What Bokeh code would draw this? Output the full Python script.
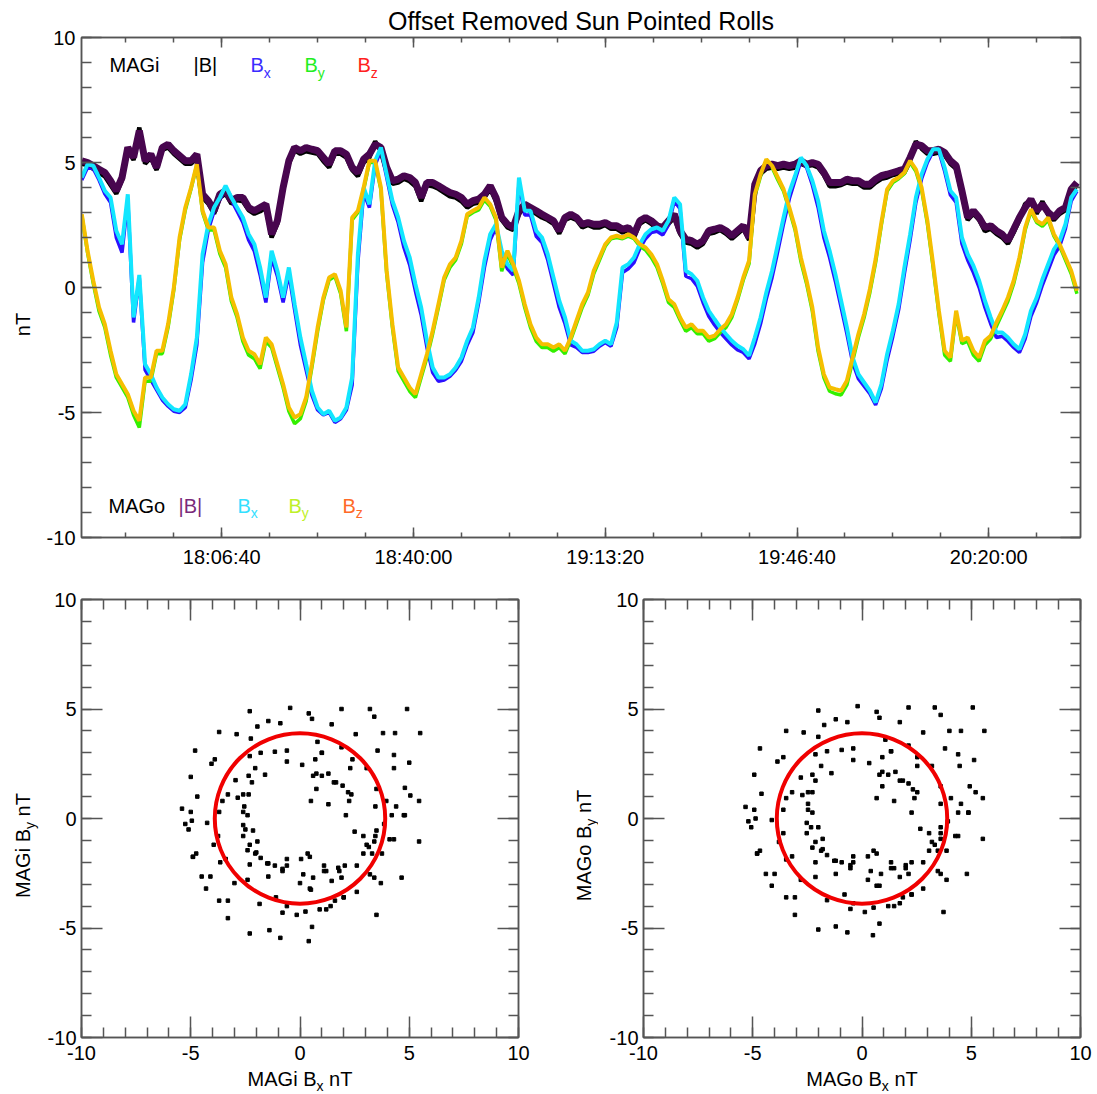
from bokeh.plotting import figure
from bokeh.models import Range1d, FixedTicker, LinearAxis, Label, ColumnDataSource, Title
from bokeh.layouts import column, row
from bokeh.embed import file_html
from bokeh.resources import INLINE

# ---------------- data ----------------
title_text = "Offset Removed Sun Pointed Rolls"
sample_start_s = 63740      # 17:42:20, seconds of day
sample_step_s = 60

# MAGo |B| (purple)
bmag_o = [5.07, 5.0, 4.87, 4.73, 4.6, 4.27, 3.87, 4.4, 5.6, 5.2, 6.27, 5.07, 5.33, 4.8, 5.6, 5.73, 5.47, 5.27, 5.07, 5.07,
          5.33, 3.73, 3.47, 3.07, 3.73, 3.87, 3.47, 3.6, 3.6, 3.2, 3.07, 3.2, 3.33, 2.13, 2.67, 4.0, 5.07, 5.6, 5.47, 5.6,
          5.53, 5.47, 5.2, 4.93, 5.47,
          5.47, 5.33, 4.8, 4.6, 5.13, 5.33, 5.73, 5.6, 4.8, 4.27, 4.33, 4.47, 4.4, 4.2, 3.6, 4.2, 4.2, 4.07, 3.93, 3.8,
          3.73, 3.6, 3.33, 3.47, 3.53, 3.73, 4.07, 3.6, 2.8, 2.53, 2.4, 3.07, 3.33, 3.2, 3.07, 2.93, 2.8, 2.67, 2.27, 2.8,
          2.93, 2.8, 2.53,
          2.6, 2.53, 2.53, 2.6, 2.47, 2.47, 2.33, 2.4, 2.13, 2.67, 2.8, 2.67, 2.47, 2.4, 2.67, 2.93, 2.27, 1.93, 1.87, 1.73,
          1.87, 2.27, 2.33, 2.4, 2.27, 2.07, 2.27, 2.47, 2.0, 4.13, 4.67, 4.87, 4.93, 4.87, 4.93, 4.87, 4.93, 5.07, 4.93, 5.0,
          4.93, 4.6, 4.2,
          4.2, 4.2, 4.33, 4.27, 4.27, 4.13, 4.13, 4.33, 4.47, 4.53, 4.6, 4.67, 4.73, 5.2, 5.73, 5.67, 5.47, 5.47, 5.53, 5.4,
          5.07, 4.87, 3.87, 2.8, 3.07, 2.8, 2.4, 2.47, 2.27, 2.13, 1.87, 2.33, 2.8, 3.2, 3.53, 3.07, 3.33, 3.0, 2.8, 3.07,
          3.2, 3.93, 4.2]

# MAGo Bx (cyan)
bx_o = [4.4, 4.93, 4.87, 4.4, 3.87, 3.6, 2.27, 1.73, 3.73, -1.2, 0.5, -3.07, -3.47, -4.0, -4.4, -4.67, -4.87, -4.93, -4.67, -3.47,
        -2.0, 1.33, 2.53, 3.2, 3.6, 4.07, 3.6, 3.2, 2.8, 2.13, 1.73, 0.8, -0.4, 1.47, 0.67, -0.4, 0.8, -0.67, -2.0, -3.07,
        -4.13, -4.8, -5.07, -4.93, -5.33,
        -5.2, -4.8, -3.6, 1.33, 4.0, 3.33, 5.07, 5.6, 4.53, 3.47, 2.8, 1.87, 1.2, 0.13, -0.8, -2.13, -3.2, -3.6, -3.6, -3.47,
        -3.2, -2.8, -2.13, -1.6, -0.4, 1.07, 2.13, 2.53, 1.47, 0.93, 0.67, 4.4, 3.07, 3.07, 2.27, 2.0, 1.33, 0.4, -0.53, -1.2,
        -2.13, -2.27, -2.53,
        -2.53, -2.47, -2.27, -2.13, -2.27, -1.4, 0.8, 0.93, 1.2, 1.73, 2.13, 2.33, 2.4, 2.27, 2.67, 3.6, 3.33, 0.67, 0.53, 0.27,
        -0.4, -0.93, -1.27, -1.6, -1.87, -2.13, -2.33, -2.47, -2.73, -2.0, -1.2, -0.2, 0.67, 1.73, 2.8, 3.8, 4.47, 5.2, 4.87, 4.27,
        3.47, 2.27, 1.47,
        0.53, -0.53, -1.6, -2.8, -3.47, -3.8, -4.13, -4.6, -3.87, -2.67, -1.73, -0.67, 0.8, 2.13, 3.6, 4.53, 5.13, 5.53, 5.53, 4.8,
        3.87, 3.6, 2.0, 1.33, 0.87, 0.27, -0.53, -1.2, -1.8, -1.8, -2.0, -2.27, -2.47, -1.87, -0.93, -0.4, 0.33, 0.93, 1.53, 1.87,
        2.53, 3.6, 3.93]

# MAGo By (gold)
by_o = [2.93, 1.47, 0.27, -0.8, -1.47, -2.53, -3.47, -3.87, -4.27, -4.93, -5.33, -3.6, -3.6, -2.53, -2.53, -1.47, 0.0, 2.0, 3.2, 4.0,
        4.93, 3.07, 2.4, 2.4, 1.47, 0.93, -0.4, -1.07, -2.0, -2.53, -2.67, -3.07, -2.0, -2.27, -3.07, -3.87, -4.8, -5.2, -5.07, -4.4,
        -3.07, -1.6, -0.4, 0.4, 0.53,
        -0.13, -1.6, 2.8, 3.07, 4.0, 5.07, 5.07, 4.0, 0.67, -1.47, -3.2, -3.6, -4.0, -4.27, -3.47, -2.67, -1.73, -0.67, 0.4, 0.93,
        1.2, 1.87, 2.93, 3.07, 3.2, 3.6, 3.33, 2.8, 0.8, 1.47, 0.93, 0.27, -0.67, -1.47, -2.0, -2.27, -2.27, -2.4, -2.27, -2.53,
        -2.0, -1.33, -0.67,
        -0.2, 0.67, 1.2, 1.73, 2.0, 2.07, 2.0, 2.13, 2.0, 1.73, 1.6, 1.33, 0.93, 0.27, -0.47, -0.67, -1.2, -1.6, -1.47, -1.73,
        -1.73, -2.0, -1.93, -1.67, -1.47, -1.07, -0.4, 0.4, 1.07, 3.73, 4.53, 5.13, 4.87, 4.4, 3.93, 3.2, 2.4, 1.2, 0.27, -0.8,
        -2.4, -3.47, -4.0,
        -4.07, -4.13, -3.73, -2.8, -1.87, -1.07, -0.07, 1.13, 2.6, 3.93, 4.27, 4.4, 4.6, 5.07, 4.73, 4.0, 2.67, 0.93, -0.93, -2.53,
        -2.8, -0.93, -2.13, -2.0, -2.53, -2.8, -2.13, -1.93, -1.4, -0.93, -0.4, 0.27, 1.2, 2.4, 3.13, 2.67, 2.53, 2.8, 2.13, 1.73,
        1.2, 0.67, -0.13]

# MAGi |B| (black)
bmag_i = [4.95, 4.9, 4.75, 4.6, 4.45, 4.1, 3.75, 4.3, 5.5, 5.1, 6.4, 4.95, 5.2, 4.7, 5.5, 5.6, 5.35, 5.15, 4.95, 4.95,
          5.2, 3.6, 3.35, 2.95, 3.6, 3.75, 3.35, 3.5, 3.45, 3.1, 2.95, 3.05, 3.2, 2.0, 2.55, 3.9, 4.95, 5.5, 5.35, 5.45,
          5.4, 5.35, 5.05, 4.8, 5.35,
          5.35, 5.2, 4.7, 4.45, 5.0, 5.2, 5.85, 5.45, 4.7, 4.15, 4.2, 4.35, 4.25, 4.05, 3.45, 4.1, 4.05, 3.95, 3.8, 3.65,
          3.6, 3.45, 3.2, 3.35, 3.4, 3.6, 3.95, 3.45, 2.7, 2.4, 2.3, 2.95, 3.2, 3.05, 2.95, 2.8, 2.7, 2.55, 2.15, 2.7,
          2.8, 2.7, 2.4,
          2.5, 2.4, 2.4, 2.5, 2.35, 2.35, 2.2, 2.3, 2.0, 2.55, 2.7, 2.55, 2.35, 2.3, 2.55, 2.8, 2.15, 1.8, 1.75, 1.6,
          1.75, 2.15, 2.2, 2.3, 2.15, 1.95, 2.15, 2.35, 1.9, 4.05, 4.55, 4.75, 4.8, 4.75, 4.8, 4.75, 4.8, 4.95, 4.85, 4.9,
          4.8, 4.5, 4.05,
          4.05, 4.1, 4.2, 4.15, 4.15, 4.0, 4.0, 4.2, 4.35, 4.4, 4.5, 4.55, 4.6, 5.1, 5.85, 5.55, 5.35, 5.35, 5.4, 5.3,
          4.95, 4.75, 3.75, 2.7, 2.95, 2.7, 2.25, 2.35, 2.15, 2.0, 1.75, 2.2, 2.7, 3.35, 3.4, 2.95, 3.45, 2.9, 2.7, 2.95,
          3.1, 3.8, 4.1]

# MAGi Bx (blue)
bx_i = [4.3, 4.8, 4.75, 4.3, 3.75, 3.4, 2.0, 1.4, 3.5, -1.4, 0.4, -3.3, -3.7, -4.1, -4.5, -4.75, -4.95, -5.0, -4.8, -3.7,
        -2.3, 1.0, 2.3, 3.05, 3.5, 3.95, 3.5, 3.05, 2.6, 1.9, 1.45, 0.5, -0.6, 1.2, 0.45, -0.6, 0.55, -0.9, -2.3, -3.3,
        -4.3, -4.9, -5.1, -5.0, -5.4,
        -5.25, -4.9, -3.9, 1.0, 3.8, 3.2, 4.9, 5.5, 4.4, 3.3, 2.6, 1.6, 0.9, -0.15, -1.1, -2.4, -3.4, -3.75, -3.7, -3.55,
        -3.3, -2.95, -2.3, -1.8, -0.6, 0.8, 1.9, 2.4, 1.3, 0.75, 0.5, 4.2, 2.9, 2.9, 2.05, 1.8, 1.1, 0.15, -0.8, -1.45,
        -2.3, -2.4, -2.6,
        -2.6, -2.55, -2.35, -2.2, -2.35, -1.6, 0.6, 0.75, 1.0, 1.55, 1.95, 2.2, 2.25, 2.1, 2.5, 3.45, 3.15, 0.45, 0.35, 0.05,
        -0.6, -1.15, -1.5, -1.8, -2.05, -2.3, -2.5, -2.6, -2.85, -2.25, -1.45, -0.45, 0.4, 1.45, 2.55, 3.55, 4.3, 5.05, 4.8, 4.1,
        3.2, 2.0, 1.2,
        0.25, -0.8, -1.85, -3.0, -3.65, -3.95, -4.25, -4.7, -4.05, -2.9, -1.95, -0.9, 0.55, 1.9, 3.4, 4.35, 5.0, 5.45, 5.45, 4.65,
        3.7, 3.4, 1.75, 1.1, 0.6, 0.0, -0.8, -1.45, -2.0, -1.95, -2.15, -2.4, -2.6, -2.05, -1.15, -0.6, 0.1, 0.7, 1.3, 1.65,
        2.35, 3.45, 3.85]

# MAGi By (green)
by_i = [2.9, 1.4, 0.15, -0.95, -1.6, -2.7, -3.6, -4.0, -4.4, -5.1, -5.6, -3.75, -3.75, -2.65, -2.65, -1.6, -0.1, 1.9, 3.1, 3.95,
        4.9, 3.0, 2.3, 2.3, 1.35, 0.8, -0.55, -1.2, -2.15, -2.7, -2.85, -3.25, -2.15, -2.4, -3.2, -4.0, -4.95, -5.45, -5.25, -4.55,
        -3.2, -1.75, -0.5, 0.3, 0.45,
        -0.25, -1.75, 2.7, 3.0, 3.9, 5.0, 5.0, 3.9, 0.55, -1.6, -3.35, -3.75, -4.15, -4.4, -3.6, -2.8, -1.85, -0.8, 0.3, 0.8,
        1.1, 1.75, 2.85, 3.0, 3.1, 3.5, 3.25, 2.7, 0.65, 1.35, 0.8, 0.15, -0.8, -1.6, -2.15, -2.4, -2.4, -2.55, -2.4, -2.65,
        -2.1, -1.45, -0.8,
        -0.3, 0.55, 1.1, 1.65, 1.95, 2.0, 1.95, 2.05, 1.95, 1.65, 1.5, 1.2, 0.8, 0.15, -0.6, -0.8, -1.3, -1.75, -1.6, -1.85,
        -1.85, -2.15, -2.05, -1.8, -1.6, -1.2, -0.5, 0.3, 0.95, 3.65, 4.45, 5.05, 4.8, 4.3, 3.85, 3.1, 2.3, 1.05, 0.15, -0.95,
        -2.55, -3.6, -4.15,
        -4.25, -4.3, -3.9, -2.95, -2.0, -1.2, -0.2, 1.0, 2.5, 3.85, 4.2, 4.35, 4.55, 5.0, 4.65, 3.9, 2.55, 0.8, -1.05, -2.7,
        -2.95, -1.05, -2.25, -2.15, -2.7, -2.95, -2.3, -2.05, -1.55, -1.05, -0.55, 0.15, 1.1, 2.3, 3.05, 2.6, 2.45, 2.7, 2.05, 1.65,
        1.1, 0.55, -0.25]

time_tick_s = [65200, 67200, 69200, 71200, 73200]
time_tick_labels = ["18:06:40", "18:40:00", "19:13:20", "19:46:40", "20:20:00"]
time_range_s = [63737, 74157]
value_ticks = [-10, -5, 0, 5, 10]
value_tick_labels = ["-10", "-5", "0", "5", "10"]
circle_radius_nT = [3.9]

n = len(bmag_o)
for s in (bx_o, by_o, bmag_i, bx_i, by_i):
    assert len(s) == n
t_s = [sample_start_s + k * sample_step_s for k in range(n)]

# ---------------- styling helpers ----------------
FONT = "Liberation Sans"
AXIS_COLOR = "#555555"


def make_fig(fw, fh, bl, br, bt, bb, xr, yr):
    p = figure(frame_width=fw, frame_height=fh, min_border_left=bl, min_border_right=br,
               min_border_top=bt, min_border_bottom=bb, x_range=xr, y_range=yr,
               x_axis_type=None, y_axis_type=None, toolbar_location=None,
               output_backend="svg", title=None)
    p.outline_line_color = AXIS_COLOR
    p.outline_line_width = 1.5
    p.background_fill_color = "white"
    p.border_fill_color = "white"
    return p


def strip(w, h):
    p = figure(frame_width=w, frame_height=h, min_border=0, min_border_left=0, min_border_right=0,
               min_border_top=0, min_border_bottom=0, x_range=Range1d(0, 1), y_range=Range1d(0, 1),
               x_axis_type=None, y_axis_type=None, toolbar_location=None,
               output_backend="svg", title=None)
    p.outline_line_color = None
    p.background_fill_color = "white"
    p.border_fill_color = "white"
    return p


def style_axis(ax, major_in, minor_in, labels, standoff=6):
    ax.axis_line_color = AXIS_COLOR
    ax.axis_line_width = 1.5
    ax.major_tick_line_color = AXIS_COLOR
    ax.minor_tick_line_color = AXIS_COLOR
    ax.major_tick_line_width = 1.5
    ax.minor_tick_line_width = 1.5
    ax.major_tick_in = major_in
    ax.major_tick_out = 0
    ax.minor_tick_in = minor_in
    ax.minor_tick_out = 0
    ax.major_label_text_font = FONT
    if labels:
        ax.major_label_text_color = "black"
        ax.major_label_text_font_size = "20px"
        ax.major_label_standoff = standoff
    else:
        ax.major_label_text_color = None
        ax.major_label_text_font_size = "1px"
        ax.major_label_standoff = 0


def add_axes(p, xticker, yticker, xin, xmin_in, yin, ymin_in, xover, yover, xstand, ystand):
    for loc in ("below", "above"):
        ax = LinearAxis(ticker=xticker)
        style_axis(ax, xin, xmin_in, loc == "below", xstand)
        if loc == "below":
            ax.major_label_overrides = xover
        p.add_layout(ax, loc)
    for loc in ("left", "right"):
        ax = LinearAxis(ticker=yticker)
        style_axis(ax, yin, ymin_in, loc == "left", ystand)
        if loc == "left":
            ax.major_label_overrides = yover
        p.add_layout(ax, loc)


def add_text(p, x, y, text, color="black", size=20, align="left", angle=0):
    p.add_layout(Label(x=x, y=y, x_units="screen", y_units="screen", text=text,
                       text_color=color, text_font=FONT, text_font_size=f"{size}px",
                       text_align=align, text_baseline="middle", angle=angle, angle_units="deg"))


def add_b(p, x, y, sub, color):
    add_text(p, x, y, "B", color, 20)
    add_text(p, x + 13.3, y - 7.5, sub, color, 14)


value_over = {v: lab for v, lab in zip(value_ticks, value_tick_labels)}
time_over = {v: lab for v, lab in zip(time_tick_s, time_tick_labels)}

# ---------------- top time-series panel ----------------
nt_strip = strip(40, 572)
add_text(nt_strip, 22, 285, "nT", align="center", angle=90)

top = make_fig(999, 500, 41, 17, 37, 35, Range1d(*time_range_s), Range1d(-10, 10))
top.title = Title(text=title_text, align="center", text_font=FONT, text_font_size="25px",
                  text_font_style="normal", text_color="black", standoff=6)
minor_time = list(range(time_tick_s[0] - 1000, time_range_s[1], 500))
xt = FixedTicker(ticks=time_tick_s, minor_ticks=minor_time)
yt = FixedTicker(ticks=value_ticks, minor_ticks=list(range(-10, 11)))
add_axes(top, xt, yt, 10, 5, 20, 10, time_over, value_over, 8, 6)

src = ColumnDataSource(dict(t=t_s, bmag_i=bmag_i, bx_i=bx_i, by_i=by_i,
                            bmag_o=bmag_o, bx_o=bx_o, by_o=by_o))
top.line("t", "bmag_i", source=src, line_color="black", line_width=4.5)
top.line("t", "bx_i", source=src, line_color="#2b10ff", line_width=3.5)
top.line("t", "by_i", source=src, line_color="#33f000", line_width=3.5)
top.line("t", "bmag_o", source=src, line_color="#48064f", line_width=7)
top.line("t", "bx_o", source=src, line_color="#12e6ff", line_width=4)
top.line("t", "by_o", source=src, line_color="#f5bf00", line_width=4)

# legends (frame coordinates)
add_text(top, 28, 472.5, "MAGi")
add_text(top, 112, 472.5, "|B|")
add_b(top, 169, 472.5, "x", "#3a2cff")
add_b(top, 223, 472.5, "y", "#22ee22")
add_b(top, 276, 472.5, "z", "#ff2020")

add_text(top, 27, 32, "MAGo")
add_text(top, 97, 32, "|B|", "#7a2a7a")
add_b(top, 156, 32, "x", "#33e0ff")
add_b(top, 207, 32, "y", "#bef028")
add_b(top, 261, 32, "z", "#ff6a28")


# ---------------- bottom hodogram panels ----------------
def hodogram(bl, br, bx, by):
    p = make_fig(437, 438, bl, br, 27, 32, Range1d(-10, 10), Range1d(-10, 10))
    tk = FixedTicker(ticks=value_ticks, minor_ticks=list(range(-10, 11)))
    add_axes(p, tk, tk, 21, 10, 21, 10, value_over, value_over, 8, 5)
    p.scatter(bx, by, marker="square", size=3.5, color="black")
    p.circle(x=[0], y=[0], radius=circle_radius_nT[0], fill_color=None,
             line_color="#f00000", line_width=4)
    return p


W_SUB, W_SPACE, W_NT = 7.0, 5.6, 23.3


def ytitle(p, xc, yc, inst, prefix_w):
    total = prefix_w + W_SUB + W_SPACE + W_NT
    y0 = yc - total / 2
    add_text(p, xc, y0, f"{inst} B", angle=90)
    add_text(p, xc + 7.5, y0 + prefix_w, "y", size=14, angle=90)
    add_text(p, xc, y0 + prefix_w + W_SUB + W_SPACE, "nT", angle=90)


def xtitle(p, xc, yc, inst, prefix_w):
    total = prefix_w + W_SUB + W_SPACE + W_NT
    x0 = xc - total / 2
    add_text(p, x0, yc, f"{inst} B")
    add_text(p, x0 + prefix_w, yc - 7.5, "x", size=14)
    add_text(p, x0 + prefix_w + W_SUB + W_SPACE, yc, "nT")


yl_strip = strip(40, 497)
ytitle(yl_strip, 22, 251, "MAGi", 68.9)
left = hodogram(41, 40, bx_i, by_i)
yr_strip = strip(40, 497)
ytitle(yr_strip, 25, 251, "MAGo", 75.6)
right = hodogram(45, 17, bx_o, by_o)

xt_strip = strip(1097, 25)
xtitle(xt_strip, 299.5, 15.7, "MAGi", 68.9)
xtitle(xt_strip, 861.5, 15.7, "MAGo", 75.6)

layout = column(row(nt_strip, top),
                row(yl_strip, left, yr_strip, right),
                xt_strip)
open("out.html", "w").write(file_html(layout, INLINE))
